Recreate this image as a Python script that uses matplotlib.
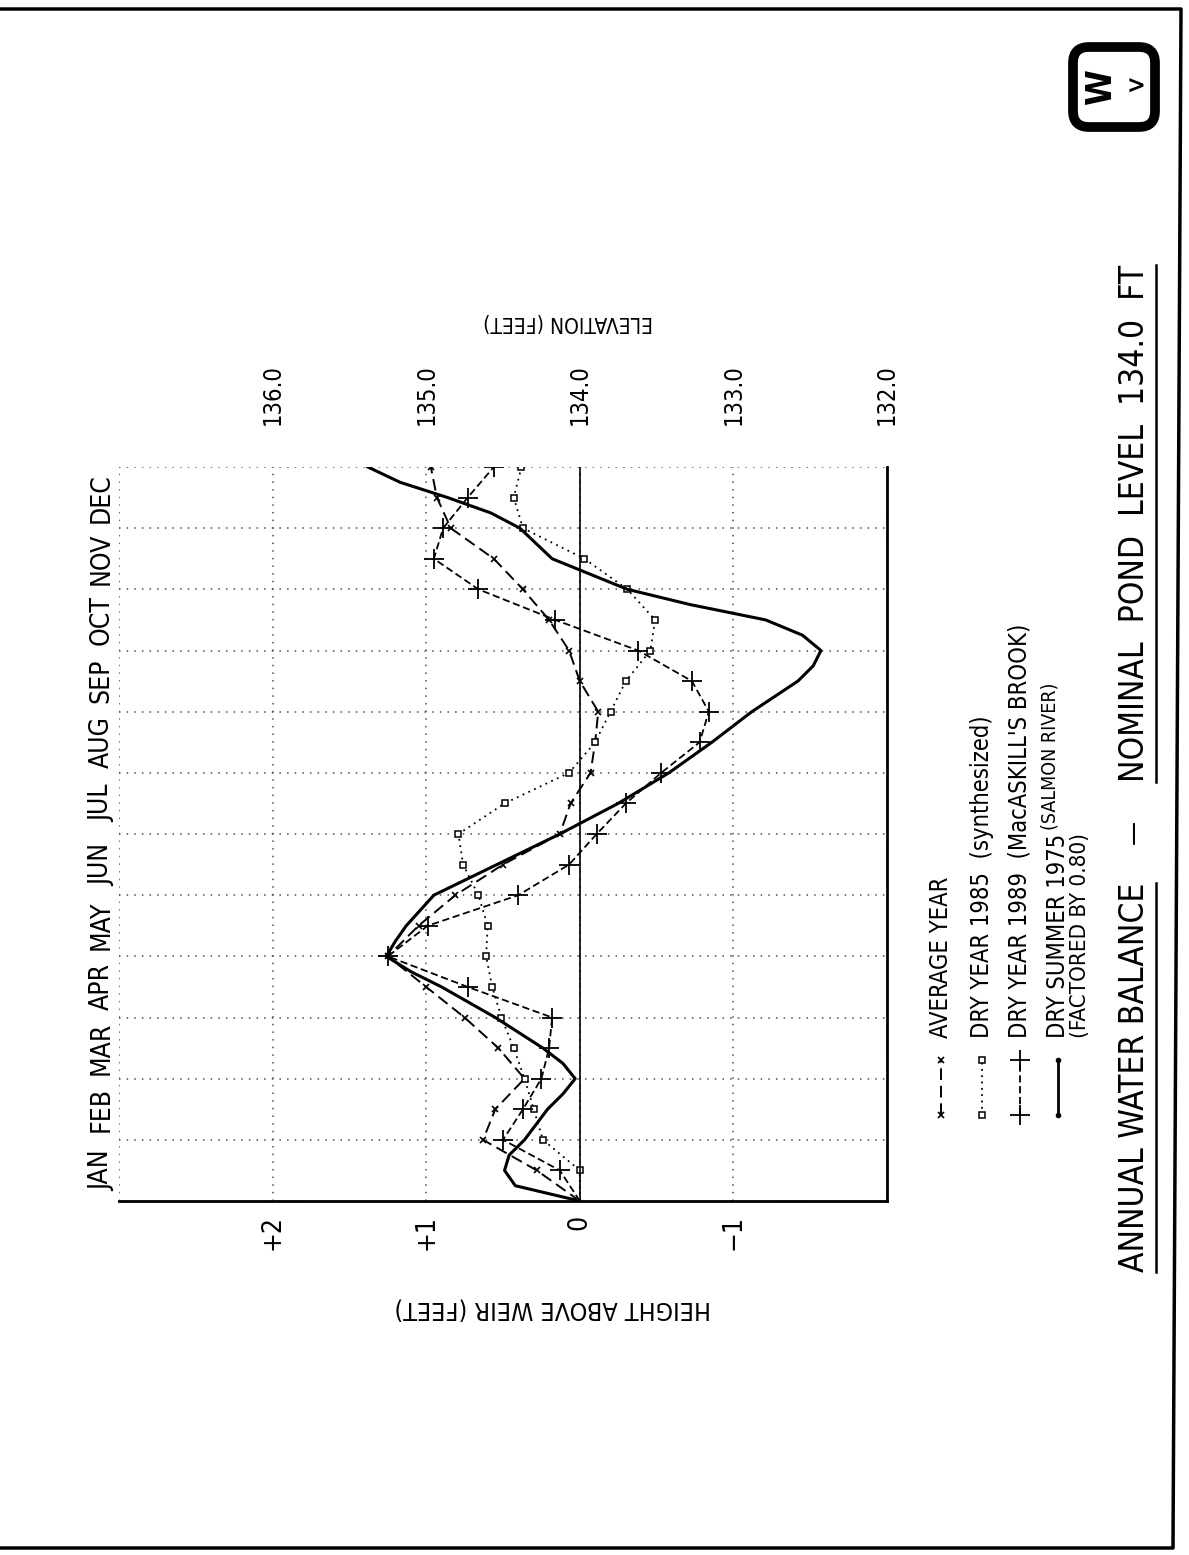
import matplotlib.pyplot as plt
from matplotlib import font_manager
from matplotlib.lines import Line2D
from matplotlib.patches import FancyBboxPatch

# the sheet uses a narrow plotter lettering; take a narrow face if one is installed
narrow = [f for f in font_manager.fontManager.ttflist
          if ("Narrow" in f.name or "Condensed" in f.name or "condensed" in str(f.stretch))
          and f.style == "normal" and f.weight in (400, "normal", "regular", "book")]
if narrow:
    plt.rcParams["font.family"] = [narrow[0].name, "Liberation Sans", "DejaVu Sans"]
    plt.rcParams["font.stretch"] = narrow[0].stretch
else:
    plt.rcParams["font.family"] = ["Liberation Sans", "DejaVu Sans"]

# half-month steps, JAN 1 = 0, DEC 31 = 12
months = [0, 0.5, 1, 1.5, 2, 2.5, 3, 3.5, 4, 4.5, 5, 5.5, 6,
          6.5, 7, 7.5, 8, 8.5, 9, 9.5, 10, 10.5, 11, 11.5, 12]

average_year = [0, 0.28, 0.63, 0.55, 0.36, 0.53, 0.75, 1.0, 1.25, 1.05, 0.81, 0.5, 0.13,
                0.06, -0.07, -0.1, -0.12, 0.0, 0.07, 0.2, 0.37, 0.56, 0.84, 0.93, 0.97]

dry_1985 = [0, 0.0, 0.24, 0.3, 0.36, 0.43, 0.51, 0.57, 0.61, 0.6, 0.66, 0.76, 0.79,
            0.49, 0.07, -0.1, -0.2, -0.3, -0.46, -0.49, -0.31, -0.03, 0.37, 0.43, 0.38]

dry_1989 = [0, 0.13, 0.5, 0.37, 0.25, 0.2, 0.18, 0.73, 1.25, 0.99, 0.4, 0.07, -0.11,
            -0.3, -0.53, -0.78, -0.84, -0.73, -0.38, 0.16, 0.66, 0.95, 0.89, 0.73, 0.56]

summer_1975_months = [0, 0.25, 0.5, 0.75, 1, 1.5, 1.75, 2, 2.25, 2.5, 3, 3.5, 3.75, 4,
                      4.25, 4.5, 5, 5.5, 6, 6.5, 7, 7.5, 8, 8.5, 8.75, 9, 9.25, 9.5,
                      9.75, 10, 10.5, 11, 11.25, 11.5, 11.75, 12]
summer_1975 = [0, 0.42, 0.49, 0.46, 0.36, 0.21, 0.11, 0.03, 0.11, 0.24, 0.55, 0.9, 1.1, 1.26,
               1.2, 1.13, 0.95, 0.54, 0.13, -0.25, -0.58, -0.86, -1.12, -1.42, -1.52, -1.57,
               -1.45, -1.21, -0.72, -0.31, 0.18, 0.39, 0.58, 0.86, 1.17, 1.38]

month_labels = ["JAN", "FEB", "MAR", "APR", "MAY", "JUN",
                "JUL", "AUG", "SEP", "OCT", "NOV", "DEC"]
height_ticks = [3, 2, 1, 0, -1, -2]
height_labels = ["", "+2", "+1", "0", "\u22121", ""]
elevation_ticks = [136.0, 135.0, 134.0, 133.0, 132.0]
pond_level = 134.0

W, H = 1189, 1555
fig = plt.figure(figsize=(W / 100, H / 100), dpi=100)


def fx(px):
    return px / W


def fy(py):
    return 1 - py / H


# the sheet is drawn turned on its side: height runs across, months run upward
ax = fig.add_axes([fx(119), fy(1201), fx(887) - fx(119), fy(467) - fy(1201)])

ax.plot(average_year, months, color="black", lw=1.4, ls=(0, (6, 3)),
        marker="x", ms=4, mew=1.2, markevery=slice(1, None))
ax.plot(dry_1985, months, color="black", lw=1.3, ls=(0, (1, 2.5)),
        marker="s", ms=4, mfc="white", mec="black", mew=1.1, markevery=slice(1, None))
ax.plot(dry_1989, months, color="black", lw=1.3, ls=(0, (4, 2)),
        marker="+", ms=15, mew=1.3, markevery=slice(1, None))
ax.plot(summer_1975, summer_1975_months, color="black", lw=2.2)

ax.axvline(0, color="black", lw=1.2)

ax.set_xlim(3, -2)
ax.set_ylim(0, 12)

ax.set_xticks(height_ticks)
ax.set_xticklabels(height_labels, rotation=90, fontsize=19)
ax.set_yticks(range(13))
ax.set_yticklabels([])
ax.set_yticks([m + 0.5 for m in range(12)], minor=True)
ax.set_yticklabels(month_labels, minor=True, rotation=90, va="center", fontsize=19)
ax.tick_params(axis="both", which="both", length=0)
ax.tick_params(axis="x", pad=10)
ax.tick_params(axis="y", which="minor", pad=3)

ax.grid(True, which="major", ls=(0, (1, 4)), color="0.3", lw=1.1)
ax.spines["top"].set_visible(False)
ax.spines["left"].set_visible(False)
ax.spines["bottom"].set_linewidth(2)
ax.spines["right"].set_linewidth(2)

elev = ax.secondary_xaxis("top", functions=(lambda h: h + pond_level,
                                            lambda e: e - pond_level))
elev.set_xticks(elevation_ticks)
elev.set_xticklabels([f"{e:.1f}" for e in elevation_ticks], rotation=90, fontsize=17)
elev.tick_params(length=0, pad=30)
elev.spines["top"].set_visible(False)

# axis titles are lettered upside down on the sheet
fig.text(fx(553), fy(1308), "HEIGHT ABOVE WEIR (FEET)", rotation=180,
         ha="center", va="center", fontsize=18)
fig.text(fx(568), fy(322), "ELEVATION (FEET)", rotation=180,
         ha="center", va="center", fontsize=15)

# legend, laid out the same way as the sheet
legend_items = [
    (941, dict(ls=(0, (6, 3)), lw=1.4, marker="x", ms=4, mew=1.2), "AVERAGE YEAR"),
    (982, dict(ls=(0, (1, 2.5)), lw=1.3, marker="s", ms=4, mfc="white", mew=1.1),
     "DRY YEAR 1985  (synthesized)"),
    (1020, dict(ls=(0, (4, 2)), lw=1.3, marker="+", ms=15, mew=1.3),
     "DRY YEAR 1989  (MacASKILL'S BROOK)"),
    (1058, dict(ls="-", lw=2, marker="o", ms=3), "DRY SUMMER 1975"),
]
legend_texts = []
for x, style, label in legend_items:
    fig.add_artist(Line2D([fx(x), fx(x)], [fy(1115), fy(1060)],
                          transform=fig.transFigure, color="black", mec="black", **style))
    legend_texts.append(fig.text(fx(x), fy(1038), label, rotation=90,
                                 ha="center", va="bottom", fontsize=17))
fig.text(fx(1080), fy(1038), "(FACTORED BY 0.80)", rotation=90, ha="center", va="bottom",
         fontsize=16)

# title in three pieces so the two halves can be underlined
title_a = fig.text(fx(1134), fy(1272), "ANNUAL WATER BALANCE", rotation=90,
                   ha="center", va="bottom", fontsize=28)
title_b = fig.text(fx(1134), fy(265), "NOMINAL  POND  LEVEL  134.0  FT", rotation=90,
                   ha="center", va="top", fontsize=28)

fig.canvas.draw()
renderer = fig.canvas.get_renderer()
size = min(28 * 389 / title_a.get_window_extent(renderer).height,
           28 * 560 / title_b.get_window_extent(renderer).height)
title_a.set_fontsize(size)
title_b.set_fontsize(size)
fig.canvas.draw()
bb_a = title_a.get_window_extent(renderer)
bb_b = title_b.get_window_extent(renderer)
fig.text(fx(1134), (bb_a.y1 + bb_b.y0) / 2 / H, "\u2014", rotation=90,
         ha="center", va="center", fontsize=size * 0.8)
for bb in (bb_a, bb_b):
    fig.add_artist(Line2D([fx(1156), fx(1156)], [bb.y0 / H, bb.y1 / H],
                          transform=fig.transFigure, color="black", lw=1.8))

bb = legend_texts[-1].get_window_extent(renderer)
fig.text(bb.x0 / W - fx(6), bb.y1 / H + 4 / H, "(SALMON RIVER)", rotation=90,
         ha="left", va="bottom", fontsize=14)

# sheet border
fig.add_artist(Line2D([0, fx(1181), fx(1173), 0], [fy(9), fy(9), fy(1548), fy(1548)],
                      transform=fig.transFigure, color="black", lw=2.5))

# logo
logo = fig.add_axes([fx(1064), fy(136), fx(100), fy(38) - fy(136)])
logo.set_xlim(0, 100)
logo.set_ylim(0, 98)
logo.axis("off")
logo.add_patch(FancyBboxPatch((9, 9), 82, 80, boxstyle="round,pad=0,rounding_size=16",
                              fc="white", ec="black", lw=7))
logo.text(37, 49, "W", rotation=90, ha="center", va="center", fontsize=26,
          fontweight="bold", family="DejaVu Sans")
logo.text(72, 49, ">", ha="center", va="center", fontsize=18, fontweight="bold",
          family="DejaVu Sans")

fig.savefig("out.png", dpi=100)
